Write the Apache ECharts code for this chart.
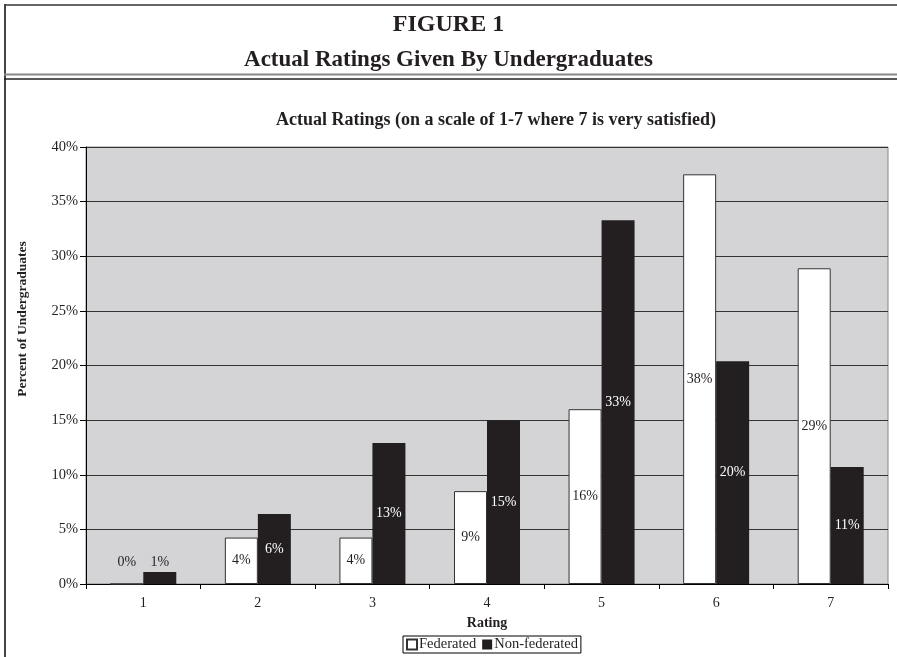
<!DOCTYPE html>
<html>
<head>
<meta charset="utf-8">
<script src="https://cdn.jsdelivr.net/npm/echarts@6/dist/echarts.min.js"></script>
<style>
html,body{margin:0;padding:0;background:#fff;}
#chart{width:897px;height:657px;}
</style>
</head>
<body>
<div id="chart"></div>
<script>
const categories = ['1','2','3','4','5','6','7'];
const federated = [0, 4.25, 4.25, 8.5, 16.0, 37.5, 28.9];
const nonFederated = [1.1, 6.4, 12.9, 15.0, 33.3, 20.4, 10.7];
const yTicks = [0, 5, 10, 15, 20, 25, 30, 35, 40];

const FONT = '"Liberation Serif", "Times New Roman", serif';
const INK = '#231f20';

function buildData(values, labelColor) {
  return values.map(v => {
    if (v < 2) {
      return { value: v, label: { position: 'insideBottom', offset: [0, -10], color: INK } };
    }
    return { value: v, label: { color: labelColor } };
  });
}

const chart = echarts.init(document.getElementById('chart'), null, {renderer: 'canvas'});
chart.setOption({
  backgroundColor: '#fff',
  animation: false,
  textStyle: { fontFamily: FONT, color: INK },
  title: [
    { text: 'FIGURE 1', left: 'center', top: 8,
      textStyle: { fontFamily: FONT, fontWeight: 'bold', fontSize: 24, color: INK } },
    { text: 'Actual Ratings Given By Undergraduates', left: 'center', top: 44,
      textStyle: { fontFamily: FONT, fontWeight: 'bold', fontSize: 23, color: INK } },
    { text: 'Actual Ratings (on a scale of 1-7 where 7 is very satisfied)', left: 491, top: 106,
      textAlign: 'center',
      textStyle: { fontFamily: FONT, fontWeight: 'bold', fontSize: 18, color: INK } }
  ],
  graphic: [
    { type: 'line', shape: { x1: 4, y1: 5, x2: 897, y2: 5 }, style: { stroke: '#666', lineWidth: 2 } },
    { type: 'line', shape: { x1: 5, y1: 4, x2: 5, y2: 657 }, style: { stroke: '#444', lineWidth: 2 } },
    { type: 'line', shape: { x1: 4, y1: 74.5, x2: 897, y2: 74.5 }, style: { stroke: '#888', lineWidth: 2 } },
    { type: 'line', shape: { x1: 4, y1: 79, x2: 897, y2: 79 }, style: { stroke: '#222', lineWidth: 1.5 } },
    { type: 'text', x: 23, y: 319, rotation: Math.PI / 2,
      style: { text: 'Percent of Undergraduates', fontFamily: FONT, fontWeight: 'bold', fontSize: 13.5,
               fill: INK, textAlign: 'center', textVerticalAlign: 'middle' } }
  ],
  legend: {
    top: 636, left: 403,
    data: ['Federated', 'Non-federated'],
    itemWidth: 10, itemHeight: 10, itemGap: 6,
    padding: [1, 3, 1, 3],
    borderColor: '#000', borderWidth: 1, borderRadius: 0,
    icon: 'rect',
    textStyle: { fontFamily: FONT, fontSize: 14.5, color: INK, padding: [0, 0, 0, -3] }
  },
  grid: {
    left: 86, right: 9, top: 147, height: 437,
    show: true, backgroundColor: '#d4d4d6', borderColor: '#888', borderWidth: 1
  },
  xAxis: {
    type: 'category', data: categories,
    name: 'Rating', nameLocation: 'middle', nameGap: 32,
    nameTextStyle: { fontFamily: FONT, fontWeight: 'bold', fontSize: 14, color: INK },
    axisLine: { lineStyle: { color: '#000', width: 1 } },
    axisTick: { show: true, length: 5, lineStyle: { color: '#000' } },
    axisLabel: { fontFamily: FONT, fontSize: 14, color: INK, margin: 12 }
  },
  yAxis: {
    type: 'value', min: yTicks[0], max: yTicks[yTicks.length - 1], interval: 5,
    axisLine: { show: true, lineStyle: { color: '#000', width: 1 } },
    axisTick: { show: true, length: 6, lineStyle: { color: '#000' } },
    axisLabel: { fontFamily: FONT, fontSize: 14.5, color: INK, margin: 8,
                 formatter: v => v + '%' },
    splitLine: { show: true, lineStyle: { color: '#333', width: 1 } }
  },
  series: [
    { name: 'Federated', type: 'bar', barWidth: 33, barGap: '0%',
      data: buildData(federated, INK),
      itemStyle: { color: '#fff', borderColor: '#333', borderWidth: 1 },
      label: { show: true, position: 'inside', fontFamily: FONT, fontSize: 14,
               formatter: p => Math.round(p.value) + '%' } },
    { name: 'Non-federated', type: 'bar', barWidth: 33,
      data: buildData(nonFederated, '#fff'),
      itemStyle: { color: INK },
      label: { show: true, position: 'inside', fontFamily: FONT, fontSize: 14,
               formatter: p => Math.round(p.value) + '%' } }
  ]
});
</script>
</body>
</html>
